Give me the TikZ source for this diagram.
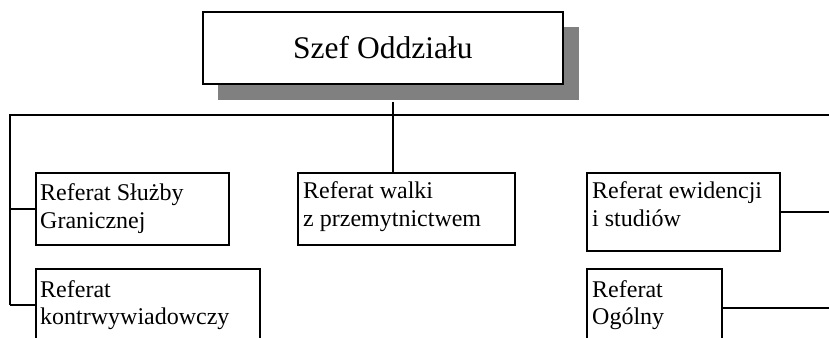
\documentclass[tikz,border=0pt]{standalone}
\usepackage{fontspec}
\setmainfont{Liberation Serif}
\begin{document}
\begin{tikzpicture}[x=1pt,y=-1pt,
  lw/.style={line width=1.7pt},
  box/.style={draw,lw,rectangle,inner sep=0pt,anchor=north west},
  lbl/.style={anchor=base west,inner sep=0pt,font=\fontsize{24}{28}\selectfont},
  conn/.style={lw}]
\useasboundingbox (0,0) rectangle (829,337);
% bus coordinates
\coordinate (busL) at (10,115);
\coordinate (busR) at (829,115);
\coordinate (j) at (393,115);
% head box with shadow
\fill[fill={rgb,255:red,128;green,128;blue,128}] (218,27) rectangle (579,100);
\node[box,fill=white,minimum width=360pt,minimum height=72pt,
      font=\fontsize{31.5}{36}\selectfont] (top) at (202,11) {Szef Oddziału};
% boxes
\node[box,minimum width=193pt,minimum height=72pt] (b1) at (35,172) {};
\node[box,minimum width=224pt,minimum height=72pt] (b2) at (35,268) {};
\node[box,minimum width=217pt,minimum height=72pt] (b3) at (297,172) {};
\node[box,minimum width=193pt,minimum height=78pt] (b4) at (586,172) {};
\node[box,minimum width=135pt,minimum height=78pt] (b5) at (586,268) {};
% texts
\node[lbl] (t1a) at (40,200) {Referat Służby};
\node[lbl] (t1b) at (40,228) {Granicznej};
\node[lbl] (t2a) at (40,297) {Referat};
\node[lbl] (t2b) at (40,324) {kontrwywiadowczy};
\node[lbl] (t3a) at (303,198) {Referat walki};
\node[lbl] (t3b) at (303,226) {z przemytnictwem};
\node[lbl] (t4a) at (592,198) {Referat ewidencji};
\node[lbl] (t4b) at (592,226) {i studiów};
\node[lbl] (t5a) at (592,297) {Referat};
\node[lbl] (t5b) at (592,324) {Ogólny};
% connectors
\draw[conn] (busR) -- (busL) -- (b2.west -| busL);
\draw[conn] (top.south -| j) ++(0,17) -- (b3.north -| j);
\draw[conn] (b1.west -| busL) -- (b1.west);
\draw[conn] (b2.west -| busL) -- (b2.west);
\draw[conn] (b4.east) -- (b4.east -| busR);
\draw[conn] (b5.east) -- (b5.east -| busR);
\end{tikzpicture}
\end{document}
